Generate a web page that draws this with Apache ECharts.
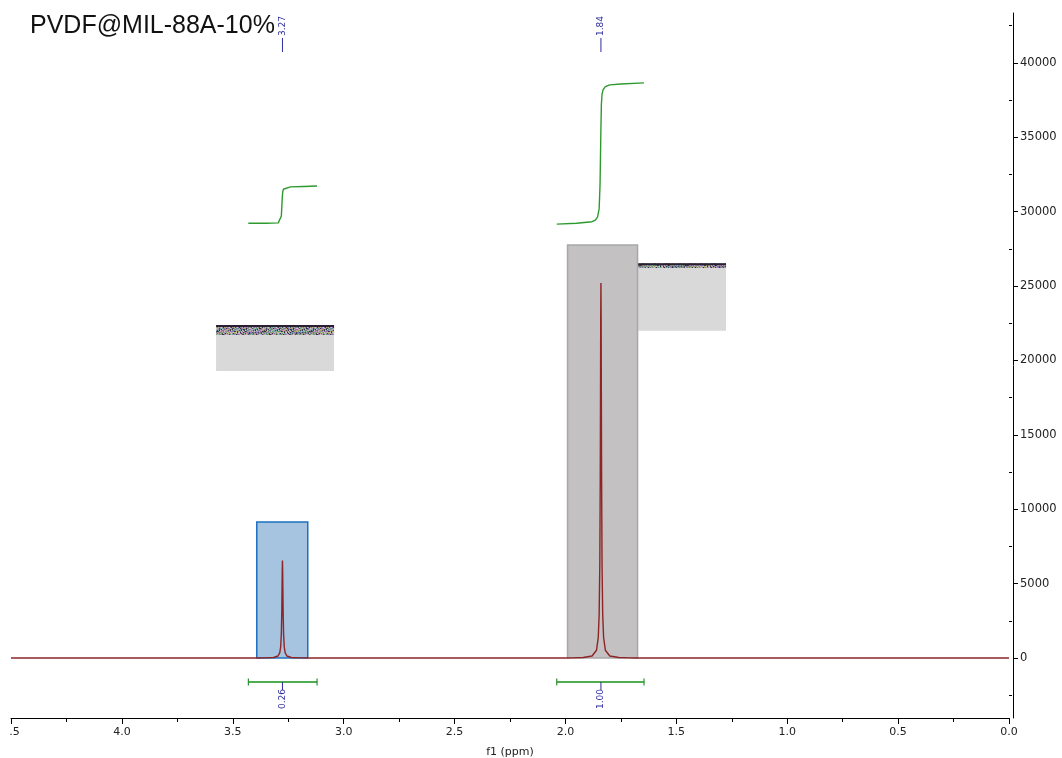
<!DOCTYPE html>
<html><head><meta charset="utf-8">
<script src="https://cdn.jsdelivr.net/npm/echarts@6/dist/echarts.min.js"></script>
<style>
html,body{margin:0;padding:0;background:#fff;overflow:hidden}
#c{position:absolute;left:9px;top:0;width:1053px;height:758px}
</style>
</head><body><div id="c"></div>
<script>
// ---- data ----
const chartTitle = 'PVDF@MIL-88A-10%';
const xAxisName = 'f1 (ppm)';
const yMajorTicks = [0, 5000, 10000, 15000, 20000, 25000, 30000, 35000, 40000];
const yMinorTicks = [-2500, 2500, 7500, 12500, 17500, 22500, 27500, 32500, 37500, 42500];

// spectrum [ppm, intensity]
const spectrum = [
  [4.5,0],[3.40,0],[3.356,8],[3.316,34],[3.296,134],[3.288,360],[3.284,757],[3.281,1640],
  [3.279,3150],[3.278,4420],[3.277,5800],[3.276,6550],[3.275,5800],[3.274,4420],[3.273,3150],
  [3.271,1640],[3.268,757],[3.264,360],[3.256,134],[3.236,34],[3.196,8],[3.15,0],
  [2.0,0],[1.966,10],[1.962,130],[1.958,12],[1.92,33],[1.88,132],[1.86,520],[1.852,1390],
  [1.848,2930],[1.845,6350],[1.843,12200],[1.842,17100],[1.841,22500],[1.84,25200],
  [1.839,22500],[1.838,17100],[1.837,12200],[1.835,6350],[1.832,2930],[1.828,1390],
  [1.82,520],[1.80,132],[1.76,33],[1.713,10],[1.709,130],[1.705,8],[1.68,3],[0,0]
];

// integral curves [ppm, value]
const integralCurve1 = [
  [3.430,29213],[3.35,29220],[3.295,29240],[3.287,29360],[3.281,29700],[3.279,30300],
  [3.277,30900],[3.275,31300],[3.272,31500],[3.265,31600],[3.24,31660],[3.18,31690],[3.120,31720]
];
const integralCurve2 = [
  [2.039,29160],[1.95,29220],[1.88,29320],[1.865,29420],[1.855,29650],[1.848,30200],
  [1.844,31800],[1.842,33700],[1.840,35600],[1.838,37200],[1.835,37900],[1.83,38200],
  [1.82,38400],[1.80,38520],[1.75,38580],[1.646,38650]
];

// peak picks
const peakPositions = [3.276, 1.84];
const peakLabels = ['3.27', '1.84'];
const peakMarkRange = [40726, 41667];

// integrals
const integralRanges = [[3.4297, 3.1199], [2.0392, 1.6456]];
const integralLabels = ['0.26', '1.00'];
const integralBracketLevel = -1613;
const integralLabelLineEnd = -2151;

// highlighted regions [ppmLeft, ppmRight, yBottom, yTop]
const blueRegion = [[3.3918, 3.1619, 0, 9140]];
const greyRegion = [[1.9906, 1.6749, 0, 27755]];
// inset boxes [ppmLeft, ppmRight, yBottom, yTop, stripBottom]
const insetBoxes = [[3.5753, 3.0433, 19288, 22379, 21707], [1.6727, 1.2759, 21996, 26526, 26210]];

// ---- texture for the broken inset strips (fixed, deterministic pattern) ----
function makeStripTexture() {
  const c = document.createElement('canvas');
  c.width = 47; c.height = 11;
  const ctx = c.getContext('2d');
  const pal = ['#3b2b45','#9a8fa8','#c68fb6','#6f9f7a','#5f9fa6','#b0a86a','#8c6fb0','#d0c0c8','#4a4a5a','#a0c0a0','#7a7a8a'];
  for (let i = 0; i < 47; i++) for (let j = 0; j < 11; j++) {
    ctx.fillStyle = pal[(i * 7 + j * 3 + ((i * j) % 5)) % pal.length];
    ctx.fillRect(i, j, 1, 1);
  }
  return c;
}
const stripTexture = makeStripTexture();

const labelBlue = '#2e2e9e';
const font = '"DejaVu Sans", Verdana, sans-serif';

function regionRender(fill, stroke) {
  return function (params, api) {
    const a = api.coord([api.value(0), api.value(3)]);
    const b = api.coord([api.value(1), api.value(2)]);
    return {
      type: 'rect',
      shape: { x: Math.min(a[0], b[0]), y: a[1], width: Math.abs(b[0] - a[0]), height: b[1] - a[1] },
      style: { fill: fill, stroke: stroke, lineWidth: 1.5 }
    };
  };
}

const chart = echarts.init(document.getElementById('c'), null, { renderer: 'canvas' });
chart.setOption({
  animation: false,
  backgroundColor: '#fff',
  grid: { left: 2, right: 53, top: 13, bottom: 40, containLabel: false, outerBoundsMode: 'none' },
  graphic: [{
    type: 'text', left: 21, top: 14,
    style: { text: chartTitle, font: '25px "Liberation Sans", Arial, sans-serif', fill: '#111' }
  }],
  xAxis: {
    type: 'value', min: 0, max: 4.5, interval: 0.5, inverse: true,
    name: xAxisName, nameLocation: 'middle', nameGap: 29,
    nameTextStyle: { fontFamily: font, fontSize: 11, color: '#222' },
    axisLine: { show: true, onZero: false, lineStyle: { color: '#000', width: 1 } },
    axisTick: { show: true, length: 6, lineStyle: { color: '#000' } },
    minorTick: { show: true, splitNumber: 2, length: 4, lineStyle: { color: '#000' } },
    axisLabel: { fontFamily: font, fontSize: 11, color: '#222', margin: 9, formatter: v => v.toFixed(1) },
    splitLine: { show: false }, minorSplitLine: { show: false }
  },
  yAxis: [{
    type: 'value', position: 'right', offset: 4, min: -4032, max: 43347,
    axisLine: { show: true, onZero: false, lineStyle: { color: '#000', width: 1 } },
    axisTick: { show: true, customValues: yMajorTicks, length: 5, lineStyle: { color: '#000' } },
    axisLabel: { customValues: yMajorTicks, fontFamily: font, fontSize: 11.5, color: '#222', margin: 7, formatter: v => String(v) },
    splitLine: { show: false }
  }, {
    type: 'value', position: 'right', offset: 4, min: -4032, max: 43347,
    axisLine: { show: false },
    axisTick: { show: true, customValues: yMinorTicks, length: 3, lineStyle: { color: '#000' } },
    axisLabel: { show: false },
    splitLine: { show: false }
  }],
  series: [
    {
      type: 'custom', z: 1, silent: true, data: insetBoxes, encode: { x: [0, 1], y: [2, 3, 4] },
      renderItem: function (params, api) {
        const a = api.coord([api.value(0), api.value(3)]);
        const b = api.coord([api.value(1), api.value(2)]);
        const s = api.coord([api.value(0), api.value(4)]);
        const x = Math.min(a[0], b[0]), w = Math.abs(b[0] - a[0]);
        return {
          type: 'group', children: [
            { type: 'rect', shape: { x: x, y: a[1], width: w, height: b[1] - a[1] }, style: { fill: '#d9d9d9' } },
            { type: 'rect', shape: { x: x, y: a[1], width: w, height: s[1] - a[1] }, style: { fill: { image: stripTexture, repeat: 'repeat' } } },
            { type: 'rect', shape: { x: x, y: a[1], width: w, height: 2 }, style: { fill: '#2b1f33' } }
          ]
        };
      }
    },
    {
      type: 'custom', z: 2, silent: true, data: blueRegion, encode: { x: [0, 1], y: [2, 3] },
      renderItem: regionRender('#a6c3df', '#1e70c0')
    },
    {
      type: 'custom', z: 2, silent: true, data: greyRegion, encode: { x: [0, 1], y: [2, 3] },
      renderItem: regionRender('#c3c1c2', '#a8a8a8')
    },
    {
      type: 'line', z: 3, data: spectrum, symbol: 'none', silent: true,
      lineStyle: { color: '#8e2424', width: 1.4 }
    },
    {
      type: 'line', z: 3, data: integralCurve1, symbol: 'none', silent: true,
      lineStyle: { color: '#2e9a2e', width: 1.4 }
    },
    {
      type: 'line', z: 3, data: integralCurve2, symbol: 'none', silent: true,
      lineStyle: { color: '#2e9a2e', width: 1.4 }
    },
    {
      type: 'custom', z: 4, silent: true, data: peakPositions.map(p => [p]), encode: { x: 0 },
      renderItem: function (params, api) {
        const x = api.value(0);
        const p1 = api.coord([x, peakMarkRange[0]]);
        const p2 = api.coord([x, peakMarkRange[1]]);
        return {
          type: 'group', children: [
            { type: 'line', shape: { x1: p1[0], y1: p1[1], x2: p2[0], y2: p2[1] }, style: { stroke: labelBlue, lineWidth: 1 } },
            { type: 'text', x: p1[0], y: p2[1] - 12, rotation: Math.PI / 2,
              style: { text: peakLabels[params.dataIndex], font: '9px ' + font, fill: labelBlue, align: 'center', verticalAlign: 'middle' } }
          ]
        };
      }
    },
    {
      type: 'custom', z: 4, silent: true,
      data: integralRanges.map((r, i) => [r[0], r[1], peakPositions[i]]), encode: { x: [0, 1, 2] },
      renderItem: function (params, api) {
        const a = api.coord([api.value(0), integralBracketLevel]);
        const b = api.coord([api.value(1), integralBracketLevel]);
        const c = api.coord([api.value(2), integralBracketLevel]);
        const d = api.coord([api.value(2), integralLabelLineEnd]);
        const g = '#4fae4f';
        return {
          type: 'group', children: [
            { type: 'line', shape: { x1: a[0], y1: a[1], x2: b[0], y2: b[1] }, style: { stroke: g, lineWidth: 2 } },
            { type: 'line', shape: { x1: a[0], y1: a[1] - 3.5, x2: a[0], y2: a[1] + 3.5 }, style: { stroke: '#2f8f2f', lineWidth: 1.2 } },
            { type: 'line', shape: { x1: b[0], y1: b[1] - 3.5, x2: b[0], y2: b[1] + 3.5 }, style: { stroke: '#2f8f2f', lineWidth: 1.2 } },
            { type: 'line', shape: { x1: c[0], y1: c[1], x2: d[0], y2: d[1] }, style: { stroke: labelBlue, lineWidth: 1 } },
            { type: 'text', x: d[0], y: d[1] + 9, rotation: Math.PI / 2,
              style: { text: integralLabels[params.dataIndex], font: '9px ' + font, fill: labelBlue, align: 'center', verticalAlign: 'middle' } }
          ]
        };
      }
    }
  ]
});
</script>
</body></html>
